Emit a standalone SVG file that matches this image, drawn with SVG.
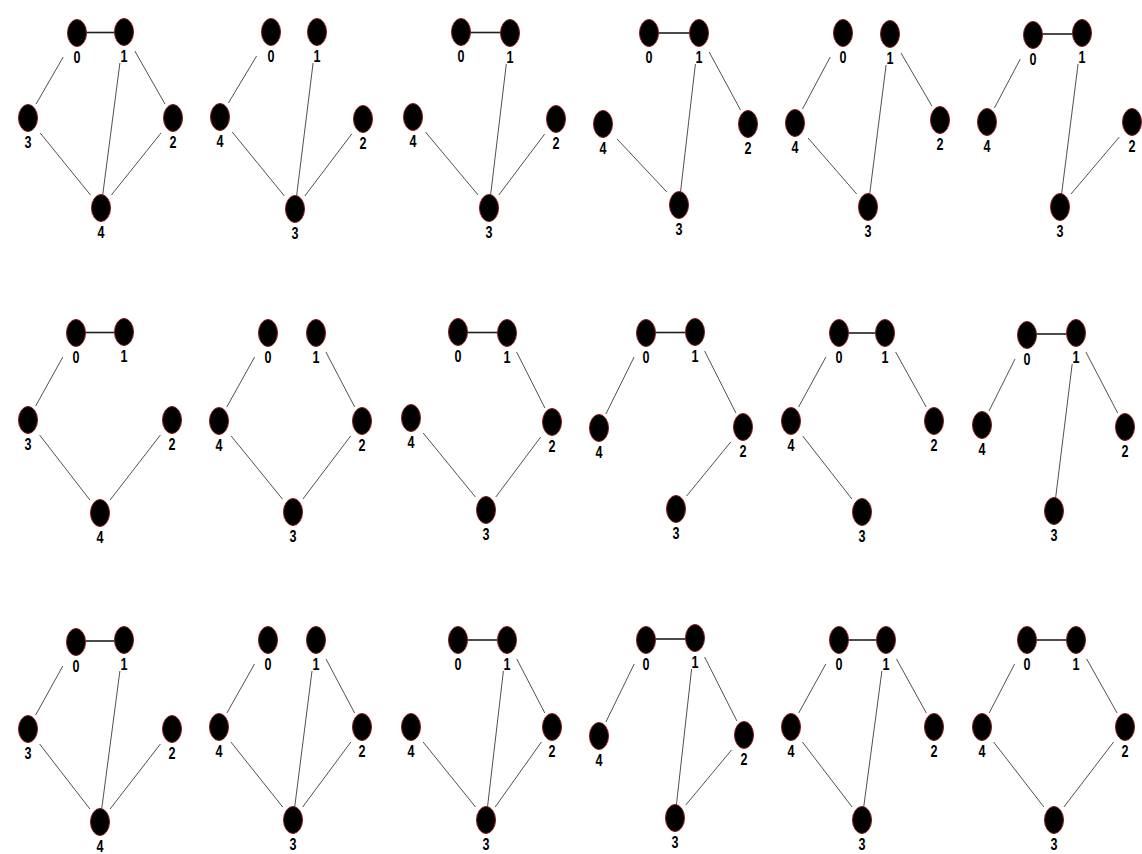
<svg xmlns="http://www.w3.org/2000/svg" width="1142" height="854" viewBox="0 0 1142 854">
<style>
.e{stroke:#505050;stroke-width:1;fill:none}
.h{stroke:#1e1e1e;stroke-width:1.6;fill:none}
.node ellipse{fill:#000;stroke:#8b1a1a;stroke-width:1}
.node text{font-family:"Liberation Sans",Arial,sans-serif;font-weight:bold;font-size:17px;fill:#000;text-anchor:middle}
</style>
<rect width="1142" height="854" fill="#fff"/>
<g id="connectors">
<g id="c-p1"><line class="h" x1="86.5" y1="32.5" x2="114.5" y2="32.5"/><line class="e" x1="63.2" y1="57" x2="36.1" y2="104"/><line class="e" x1="119.9" y1="63" x2="102.7" y2="195"/><line class="e" x1="134.8" y1="51" x2="165" y2="104"/><line class="e" x1="40.2" y1="133" x2="90.5" y2="195"/><line class="e" x1="161" y1="133" x2="111.4" y2="195"/></g>
<g id="c-p2"><line class="e" x1="256.6" y1="56" x2="228.4" y2="103"/><line class="e" x1="313.1" y1="63" x2="296.6" y2="196"/><line class="e" x1="232.2" y1="132" x2="284.4" y2="196"/><line class="e" x1="351.7" y1="134" x2="304.8" y2="196"/></g>
<g id="c-p3"><line class="h" x1="470.5" y1="32.5" x2="500.5" y2="32.5"/><line class="e" x1="506.3" y1="64" x2="490.6" y2="195"/><line class="e" x1="425.5" y1="132" x2="478.1" y2="195"/><line class="e" x1="544.7" y1="134" x2="498.8" y2="195"/></g>
<g id="c-p4"><line class="h" x1="658.5" y1="33" x2="689.5" y2="33"/><line class="e" x1="695.4" y1="64" x2="680.5" y2="192"/><line class="e" x1="709.2" y1="52" x2="740.5" y2="110"/><line class="e" x1="617.1" y1="139" x2="666.8" y2="192"/></g>
<g id="c-p5"><line class="e" x1="830.2" y1="57" x2="802.5" y2="109"/><line class="e" x1="901" y1="53" x2="931.9" y2="106"/><line class="e" x1="886.1" y1="65" x2="869.7" y2="194"/><line class="e" x1="808" y1="138" x2="856.7" y2="194"/></g>
<g id="c-p6"><line class="h" x1="1042.5" y1="34" x2="1072.5" y2="34"/><line class="e" x1="1020.3" y1="59" x2="994.4" y2="108"/><line class="e" x1="1078.1" y1="64" x2="1061.6" y2="194"/><line class="e" x1="1119.3" y1="137" x2="1071" y2="194"/></g>
<g id="c-p7"><line class="h" x1="85.5" y1="332.5" x2="114.5" y2="332.5"/><line class="e" x1="62.8" y1="357" x2="35.7" y2="406"/><line class="e" x1="39.6" y1="435" x2="89.9" y2="500"/><line class="e" x1="160.4" y1="435" x2="110.1" y2="500"/></g>
<g id="c-p8"><line class="e" x1="254.6" y1="357" x2="226.8" y2="407"/><line class="e" x1="325.9" y1="352" x2="354.7" y2="407"/><line class="e" x1="231.2" y1="436" x2="282.4" y2="499"/><line class="e" x1="350.6" y1="436" x2="302.9" y2="499"/></g>
<g id="c-p9"><line class="h" x1="467.5" y1="332.5" x2="497.5" y2="332.5"/><line class="e" x1="516.6" y1="352" x2="544.9" y2="408"/><line class="e" x1="423.2" y1="433" x2="475.4" y2="497"/><line class="e" x1="540.7" y1="437" x2="495.8" y2="497"/></g>
<g id="c-p10"><line class="h" x1="655.5" y1="332.5" x2="685.5" y2="332.5"/><line class="e" x1="634.1" y1="357" x2="605.9" y2="414"/><line class="e" x1="704.6" y1="351" x2="735.9" y2="413"/><line class="e" x1="730.7" y1="442" x2="686.6" y2="496"/></g>
<g id="c-p11"><line class="h" x1="848.5" y1="333" x2="875.5" y2="333"/><line class="e" x1="825.9" y1="357" x2="798.6" y2="407"/><line class="e" x1="895.6" y1="352" x2="926.2" y2="407"/><line class="e" x1="802.7" y1="436" x2="851.9" y2="499"/></g>
<g id="c-p12"><line class="h" x1="1036.5" y1="334" x2="1066.5" y2="334"/><line class="e" x1="1015" y1="359" x2="989" y2="411"/><line class="e" x1="1085.9" y1="352" x2="1117.7" y2="413"/><line class="e" x1="1072.2" y1="364" x2="1055.6" y2="498"/></g>
<g id="c-p13"><line class="h" x1="85.5" y1="641" x2="114.5" y2="641"/><line class="e" x1="62.8" y1="666" x2="35.7" y2="715"/><line class="e" x1="119.9" y1="671" x2="101.7" y2="809"/><line class="e" x1="39.6" y1="744" x2="89.9" y2="809"/><line class="e" x1="160.4" y1="744" x2="110.1" y2="809"/></g>
<g id="c-p14"><line class="e" x1="254.5" y1="664" x2="226.9" y2="713"/><line class="e" x1="312" y1="671" x2="294.7" y2="807"/><line class="e" x1="326" y1="659" x2="354.6" y2="713"/><line class="e" x1="230.9" y1="742" x2="282.7" y2="807"/><line class="e" x1="350.9" y1="742" x2="302.6" y2="807"/></g>
<g id="c-p15"><line class="h" x1="467.5" y1="640" x2="497.5" y2="640"/><line class="e" x1="503.4" y1="671" x2="487.5" y2="807"/><line class="e" x1="516.8" y1="659" x2="544.8" y2="713"/><line class="e" x1="423.1" y1="742" x2="475.5" y2="807"/><line class="e" x1="541.4" y1="742" x2="495.2" y2="807"/></g>
<g id="c-p16"><line class="h" x1="655.5" y1="639" x2="685.5" y2="639"/><line class="e" x1="634.2" y1="664" x2="605.9" y2="722"/><line class="e" x1="691.6" y1="669" x2="676.4" y2="805"/><line class="e" x1="704.6" y1="657" x2="736.9" y2="721"/><line class="e" x1="731.5" y1="750" x2="685.8" y2="805"/></g>
<g id="c-p17"><line class="h" x1="848.5" y1="640" x2="876.5" y2="640"/><line class="e" x1="825.8" y1="664" x2="798.7" y2="713"/><line class="e" x1="881.9" y1="671" x2="863.7" y2="807"/><line class="e" x1="896.5" y1="659" x2="926.3" y2="713"/><line class="e" x1="802.4" y1="742" x2="852.1" y2="807"/></g>
<g id="c-p18"><line class="h" x1="1036.5" y1="640" x2="1066.5" y2="640"/><line class="e" x1="1014.6" y1="664" x2="989.2" y2="713"/><line class="e" x1="1086.7" y1="659" x2="1117.1" y2="713"/><line class="e" x1="993.6" y1="742" x2="1043.9" y2="807"/><line class="e" x1="1113.6" y1="742" x2="1063.9" y2="807"/></g>
</g>
<g id="nodes">
<g id="p1">
<g id="p1-n0" class="node"><ellipse cx="77" cy="33" rx="9.5" ry="13.5"/><text x="77" y="63" textLength="7" lengthAdjust="spacingAndGlyphs">0</text></g>
<g id="p1-n1" class="node"><ellipse cx="124" cy="32" rx="9.5" ry="13.5"/><text x="124" y="62" textLength="7" lengthAdjust="spacingAndGlyphs">1</text></g>
<g id="p1-n2" class="node"><ellipse cx="173" cy="118" rx="9.5" ry="13.5"/><text x="173" y="148" textLength="7" lengthAdjust="spacingAndGlyphs">2</text></g>
<g id="p1-n3" class="node"><ellipse cx="28" cy="118" rx="9.5" ry="13.5"/><text x="28" y="148" textLength="7" lengthAdjust="spacingAndGlyphs">3</text></g>
<g id="p1-n4" class="node"><ellipse cx="101" cy="208" rx="9.5" ry="13.5"/><text x="101" y="238" textLength="7" lengthAdjust="spacingAndGlyphs">4</text></g>
</g>
<g id="p2">
<g id="p2-n0" class="node"><ellipse cx="271" cy="32" rx="9.5" ry="13.5"/><text x="271" y="62" textLength="7" lengthAdjust="spacingAndGlyphs">0</text></g>
<g id="p2-n1" class="node"><ellipse cx="317" cy="32" rx="9.5" ry="13.5"/><text x="317" y="62" textLength="7" lengthAdjust="spacingAndGlyphs">1</text></g>
<g id="p2-n2" class="node"><ellipse cx="363" cy="119" rx="9.5" ry="13.5"/><text x="363" y="149" textLength="7" lengthAdjust="spacingAndGlyphs">2</text></g>
<g id="p2-n3" class="node"><ellipse cx="295" cy="209" rx="9.5" ry="13.5"/><text x="295" y="239" textLength="7" lengthAdjust="spacingAndGlyphs">3</text></g>
<g id="p2-n4" class="node"><ellipse cx="220" cy="117" rx="9.5" ry="13.5"/><text x="220" y="147" textLength="7" lengthAdjust="spacingAndGlyphs">4</text></g>
</g>
<g id="p3">
<g id="p3-n0" class="node"><ellipse cx="461" cy="32" rx="9.5" ry="13.5"/><text x="461" y="62" textLength="7" lengthAdjust="spacingAndGlyphs">0</text></g>
<g id="p3-n1" class="node"><ellipse cx="510" cy="33" rx="9.5" ry="13.5"/><text x="510" y="63" textLength="7" lengthAdjust="spacingAndGlyphs">1</text></g>
<g id="p3-n2" class="node"><ellipse cx="556" cy="119" rx="9.5" ry="13.5"/><text x="556" y="149" textLength="7" lengthAdjust="spacingAndGlyphs">2</text></g>
<g id="p3-n3" class="node"><ellipse cx="489" cy="208" rx="9.5" ry="13.5"/><text x="489" y="238" textLength="7" lengthAdjust="spacingAndGlyphs">3</text></g>
<g id="p3-n4" class="node"><ellipse cx="413" cy="117" rx="9.5" ry="13.5"/><text x="413" y="147" textLength="7" lengthAdjust="spacingAndGlyphs">4</text></g>
</g>
<g id="p4">
<g id="p4-n0" class="node"><ellipse cx="649" cy="33" rx="9.5" ry="13.5"/><text x="649" y="63" textLength="7" lengthAdjust="spacingAndGlyphs">0</text></g>
<g id="p4-n1" class="node"><ellipse cx="699" cy="33" rx="9.5" ry="13.5"/><text x="699" y="63" textLength="7" lengthAdjust="spacingAndGlyphs">1</text></g>
<g id="p4-n2" class="node"><ellipse cx="748" cy="124" rx="9.5" ry="13.5"/><text x="748" y="154" textLength="7" lengthAdjust="spacingAndGlyphs">2</text></g>
<g id="p4-n3" class="node"><ellipse cx="679" cy="205" rx="9.5" ry="13.5"/><text x="679" y="235" textLength="7" lengthAdjust="spacingAndGlyphs">3</text></g>
<g id="p4-n4" class="node"><ellipse cx="603" cy="124" rx="9.5" ry="13.5"/><text x="603" y="154" textLength="7" lengthAdjust="spacingAndGlyphs">4</text></g>
</g>
<g id="p5">
<g id="p5-n0" class="node"><ellipse cx="843" cy="33" rx="9.5" ry="13.5"/><text x="843" y="63" textLength="7" lengthAdjust="spacingAndGlyphs">0</text></g>
<g id="p5-n1" class="node"><ellipse cx="890" cy="34" rx="9.5" ry="13.5"/><text x="890" y="64" textLength="7" lengthAdjust="spacingAndGlyphs">1</text></g>
<g id="p5-n2" class="node"><ellipse cx="940" cy="120" rx="9.5" ry="13.5"/><text x="940" y="150" textLength="7" lengthAdjust="spacingAndGlyphs">2</text></g>
<g id="p5-n3" class="node"><ellipse cx="868" cy="207" rx="9.5" ry="13.5"/><text x="868" y="237" textLength="7" lengthAdjust="spacingAndGlyphs">3</text></g>
<g id="p5-n4" class="node"><ellipse cx="795" cy="123" rx="9.5" ry="13.5"/><text x="795" y="153" textLength="7" lengthAdjust="spacingAndGlyphs">4</text></g>
</g>
<g id="p6">
<g id="p6-n0" class="node"><ellipse cx="1033" cy="35" rx="9.5" ry="13.5"/><text x="1033" y="65" textLength="7" lengthAdjust="spacingAndGlyphs">0</text></g>
<g id="p6-n1" class="node"><ellipse cx="1082" cy="33" rx="9.5" ry="13.5"/><text x="1082" y="63" textLength="7" lengthAdjust="spacingAndGlyphs">1</text></g>
<g id="p6-n2" class="node"><ellipse cx="1132" cy="122" rx="9.5" ry="13.5"/><text x="1132" y="152" textLength="7" lengthAdjust="spacingAndGlyphs">2</text></g>
<g id="p6-n3" class="node"><ellipse cx="1060" cy="207" rx="9.5" ry="13.5"/><text x="1060" y="237" textLength="7" lengthAdjust="spacingAndGlyphs">3</text></g>
<g id="p6-n4" class="node"><ellipse cx="987" cy="122" rx="9.5" ry="13.5"/><text x="987" y="152" textLength="7" lengthAdjust="spacingAndGlyphs">4</text></g>
</g>
<g id="p7">
<g id="p7-n0" class="node"><ellipse cx="76" cy="333" rx="9.5" ry="13.5"/><text x="76" y="363" textLength="7" lengthAdjust="spacingAndGlyphs">0</text></g>
<g id="p7-n1" class="node"><ellipse cx="124" cy="332" rx="9.5" ry="13.5"/><text x="124" y="362" textLength="7" lengthAdjust="spacingAndGlyphs">1</text></g>
<g id="p7-n2" class="node"><ellipse cx="172" cy="420" rx="9.5" ry="13.5"/><text x="172" y="450" textLength="7" lengthAdjust="spacingAndGlyphs">2</text></g>
<g id="p7-n3" class="node"><ellipse cx="28" cy="420" rx="9.5" ry="13.5"/><text x="28" y="450" textLength="7" lengthAdjust="spacingAndGlyphs">3</text></g>
<g id="p7-n4" class="node"><ellipse cx="100" cy="513" rx="9.5" ry="13.5"/><text x="100" y="543" textLength="7" lengthAdjust="spacingAndGlyphs">4</text></g>
</g>
<g id="p8">
<g id="p8-n0" class="node"><ellipse cx="268" cy="333" rx="9.5" ry="13.5"/><text x="268" y="363" textLength="7" lengthAdjust="spacingAndGlyphs">0</text></g>
<g id="p8-n1" class="node"><ellipse cx="316" cy="333" rx="9.5" ry="13.5"/><text x="316" y="363" textLength="7" lengthAdjust="spacingAndGlyphs">1</text></g>
<g id="p8-n2" class="node"><ellipse cx="362" cy="421" rx="9.5" ry="13.5"/><text x="362" y="451" textLength="7" lengthAdjust="spacingAndGlyphs">2</text></g>
<g id="p8-n3" class="node"><ellipse cx="293" cy="512" rx="9.5" ry="13.5"/><text x="293" y="542" textLength="7" lengthAdjust="spacingAndGlyphs">3</text></g>
<g id="p8-n4" class="node"><ellipse cx="219" cy="421" rx="9.5" ry="13.5"/><text x="219" y="451" textLength="7" lengthAdjust="spacingAndGlyphs">4</text></g>
</g>
<g id="p9">
<g id="p9-n0" class="node"><ellipse cx="458" cy="332" rx="9.5" ry="13.5"/><text x="458" y="362" textLength="7" lengthAdjust="spacingAndGlyphs">0</text></g>
<g id="p9-n1" class="node"><ellipse cx="507" cy="333" rx="9.5" ry="13.5"/><text x="507" y="363" textLength="7" lengthAdjust="spacingAndGlyphs">1</text></g>
<g id="p9-n2" class="node"><ellipse cx="552" cy="422" rx="9.5" ry="13.5"/><text x="552" y="452" textLength="7" lengthAdjust="spacingAndGlyphs">2</text></g>
<g id="p9-n3" class="node"><ellipse cx="486" cy="510" rx="9.5" ry="13.5"/><text x="486" y="540" textLength="7" lengthAdjust="spacingAndGlyphs">3</text></g>
<g id="p9-n4" class="node"><ellipse cx="411" cy="418" rx="9.5" ry="13.5"/><text x="411" y="448" textLength="7" lengthAdjust="spacingAndGlyphs">4</text></g>
</g>
<g id="p10">
<g id="p10-n0" class="node"><ellipse cx="646" cy="333" rx="9.5" ry="13.5"/><text x="646" y="363" textLength="7" lengthAdjust="spacingAndGlyphs">0</text></g>
<g id="p10-n1" class="node"><ellipse cx="695" cy="332" rx="9.5" ry="13.5"/><text x="695" y="362" textLength="7" lengthAdjust="spacingAndGlyphs">1</text></g>
<g id="p10-n2" class="node"><ellipse cx="743" cy="427" rx="9.5" ry="13.5"/><text x="743" y="457" textLength="7" lengthAdjust="spacingAndGlyphs">2</text></g>
<g id="p10-n3" class="node"><ellipse cx="676" cy="509" rx="9.5" ry="13.5"/><text x="676" y="539" textLength="7" lengthAdjust="spacingAndGlyphs">3</text></g>
<g id="p10-n4" class="node"><ellipse cx="599" cy="428" rx="9.5" ry="13.5"/><text x="599" y="458" textLength="7" lengthAdjust="spacingAndGlyphs">4</text></g>
</g>
<g id="p11">
<g id="p11-n0" class="node"><ellipse cx="839" cy="333" rx="9.5" ry="13.5"/><text x="839" y="363" textLength="7" lengthAdjust="spacingAndGlyphs">0</text></g>
<g id="p11-n1" class="node"><ellipse cx="885" cy="333" rx="9.5" ry="13.5"/><text x="885" y="363" textLength="7" lengthAdjust="spacingAndGlyphs">1</text></g>
<g id="p11-n2" class="node"><ellipse cx="934" cy="421" rx="9.5" ry="13.5"/><text x="934" y="451" textLength="7" lengthAdjust="spacingAndGlyphs">2</text></g>
<g id="p11-n3" class="node"><ellipse cx="862" cy="512" rx="9.5" ry="13.5"/><text x="862" y="542" textLength="7" lengthAdjust="spacingAndGlyphs">3</text></g>
<g id="p11-n4" class="node"><ellipse cx="791" cy="421" rx="9.5" ry="13.5"/><text x="791" y="451" textLength="7" lengthAdjust="spacingAndGlyphs">4</text></g>
</g>
<g id="p12">
<g id="p12-n0" class="node"><ellipse cx="1027" cy="335" rx="9.5" ry="13.5"/><text x="1027" y="365" textLength="7" lengthAdjust="spacingAndGlyphs">0</text></g>
<g id="p12-n1" class="node"><ellipse cx="1076" cy="333" rx="9.5" ry="13.5"/><text x="1076" y="363" textLength="7" lengthAdjust="spacingAndGlyphs">1</text></g>
<g id="p12-n2" class="node"><ellipse cx="1125" cy="427" rx="9.5" ry="13.5"/><text x="1125" y="457" textLength="7" lengthAdjust="spacingAndGlyphs">2</text></g>
<g id="p12-n3" class="node"><ellipse cx="1054" cy="511" rx="9.5" ry="13.5"/><text x="1054" y="541" textLength="7" lengthAdjust="spacingAndGlyphs">3</text></g>
<g id="p12-n4" class="node"><ellipse cx="982" cy="425" rx="9.5" ry="13.5"/><text x="982" y="455" textLength="7" lengthAdjust="spacingAndGlyphs">4</text></g>
</g>
<g id="p13">
<g id="p13-n0" class="node"><ellipse cx="76" cy="642" rx="9.5" ry="13.5"/><text x="76" y="672" textLength="7" lengthAdjust="spacingAndGlyphs">0</text></g>
<g id="p13-n1" class="node"><ellipse cx="124" cy="640" rx="9.5" ry="13.5"/><text x="124" y="670" textLength="7" lengthAdjust="spacingAndGlyphs">1</text></g>
<g id="p13-n2" class="node"><ellipse cx="172" cy="729" rx="9.5" ry="13.5"/><text x="172" y="759" textLength="7" lengthAdjust="spacingAndGlyphs">2</text></g>
<g id="p13-n3" class="node"><ellipse cx="28" cy="729" rx="9.5" ry="13.5"/><text x="28" y="759" textLength="7" lengthAdjust="spacingAndGlyphs">3</text></g>
<g id="p13-n4" class="node"><ellipse cx="100" cy="822" rx="9.5" ry="13.5"/><text x="100" y="852" textLength="7" lengthAdjust="spacingAndGlyphs">4</text></g>
</g>
<g id="p14">
<g id="p14-n0" class="node"><ellipse cx="268" cy="640" rx="9.5" ry="13.5"/><text x="268" y="670" textLength="7" lengthAdjust="spacingAndGlyphs">0</text></g>
<g id="p14-n1" class="node"><ellipse cx="316" cy="640" rx="9.5" ry="13.5"/><text x="316" y="670" textLength="7" lengthAdjust="spacingAndGlyphs">1</text></g>
<g id="p14-n2" class="node"><ellipse cx="362" cy="727" rx="9.5" ry="13.5"/><text x="362" y="757" textLength="7" lengthAdjust="spacingAndGlyphs">2</text></g>
<g id="p14-n3" class="node"><ellipse cx="293" cy="820" rx="9.5" ry="13.5"/><text x="293" y="850" textLength="7" lengthAdjust="spacingAndGlyphs">3</text></g>
<g id="p14-n4" class="node"><ellipse cx="219" cy="727" rx="9.5" ry="13.5"/><text x="219" y="757" textLength="7" lengthAdjust="spacingAndGlyphs">4</text></g>
</g>
<g id="p15">
<g id="p15-n0" class="node"><ellipse cx="458" cy="640" rx="9.5" ry="13.5"/><text x="458" y="670" textLength="7" lengthAdjust="spacingAndGlyphs">0</text></g>
<g id="p15-n1" class="node"><ellipse cx="507" cy="640" rx="9.5" ry="13.5"/><text x="507" y="670" textLength="7" lengthAdjust="spacingAndGlyphs">1</text></g>
<g id="p15-n2" class="node"><ellipse cx="552" cy="727" rx="9.5" ry="13.5"/><text x="552" y="757" textLength="7" lengthAdjust="spacingAndGlyphs">2</text></g>
<g id="p15-n3" class="node"><ellipse cx="486" cy="820" rx="9.5" ry="13.5"/><text x="486" y="850" textLength="7" lengthAdjust="spacingAndGlyphs">3</text></g>
<g id="p15-n4" class="node"><ellipse cx="411" cy="727" rx="9.5" ry="13.5"/><text x="411" y="757" textLength="7" lengthAdjust="spacingAndGlyphs">4</text></g>
</g>
<g id="p16">
<g id="p16-n0" class="node"><ellipse cx="646" cy="640" rx="9.5" ry="13.5"/><text x="646" y="670" textLength="7" lengthAdjust="spacingAndGlyphs">0</text></g>
<g id="p16-n1" class="node"><ellipse cx="695" cy="638" rx="9.5" ry="13.5"/><text x="695" y="668" textLength="7" lengthAdjust="spacingAndGlyphs">1</text></g>
<g id="p16-n2" class="node"><ellipse cx="744" cy="735" rx="9.5" ry="13.5"/><text x="744" y="765" textLength="7" lengthAdjust="spacingAndGlyphs">2</text></g>
<g id="p16-n3" class="node"><ellipse cx="675" cy="818" rx="9.5" ry="13.5"/><text x="675" y="848" textLength="7" lengthAdjust="spacingAndGlyphs">3</text></g>
<g id="p16-n4" class="node"><ellipse cx="599" cy="736" rx="9.5" ry="13.5"/><text x="599" y="766" textLength="7" lengthAdjust="spacingAndGlyphs">4</text></g>
</g>
<g id="p17">
<g id="p17-n0" class="node"><ellipse cx="839" cy="640" rx="9.5" ry="13.5"/><text x="839" y="670" textLength="7" lengthAdjust="spacingAndGlyphs">0</text></g>
<g id="p17-n1" class="node"><ellipse cx="886" cy="640" rx="9.5" ry="13.5"/><text x="886" y="670" textLength="7" lengthAdjust="spacingAndGlyphs">1</text></g>
<g id="p17-n2" class="node"><ellipse cx="934" cy="727" rx="9.5" ry="13.5"/><text x="934" y="757" textLength="7" lengthAdjust="spacingAndGlyphs">2</text></g>
<g id="p17-n3" class="node"><ellipse cx="862" cy="820" rx="9.5" ry="13.5"/><text x="862" y="850" textLength="7" lengthAdjust="spacingAndGlyphs">3</text></g>
<g id="p17-n4" class="node"><ellipse cx="791" cy="727" rx="9.5" ry="13.5"/><text x="791" y="757" textLength="7" lengthAdjust="spacingAndGlyphs">4</text></g>
</g>
<g id="p18">
<g id="p18-n0" class="node"><ellipse cx="1027" cy="640" rx="9.5" ry="13.5"/><text x="1027" y="670" textLength="7" lengthAdjust="spacingAndGlyphs">0</text></g>
<g id="p18-n1" class="node"><ellipse cx="1076" cy="640" rx="9.5" ry="13.5"/><text x="1076" y="670" textLength="7" lengthAdjust="spacingAndGlyphs">1</text></g>
<g id="p18-n2" class="node"><ellipse cx="1125" cy="727" rx="9.5" ry="13.5"/><text x="1125" y="757" textLength="7" lengthAdjust="spacingAndGlyphs">2</text></g>
<g id="p18-n3" class="node"><ellipse cx="1054" cy="820" rx="9.5" ry="13.5"/><text x="1054" y="850" textLength="7" lengthAdjust="spacingAndGlyphs">3</text></g>
<g id="p18-n4" class="node"><ellipse cx="982" cy="727" rx="9.5" ry="13.5"/><text x="982" y="757" textLength="7" lengthAdjust="spacingAndGlyphs">4</text></g>
</g>
</g>
</svg>
